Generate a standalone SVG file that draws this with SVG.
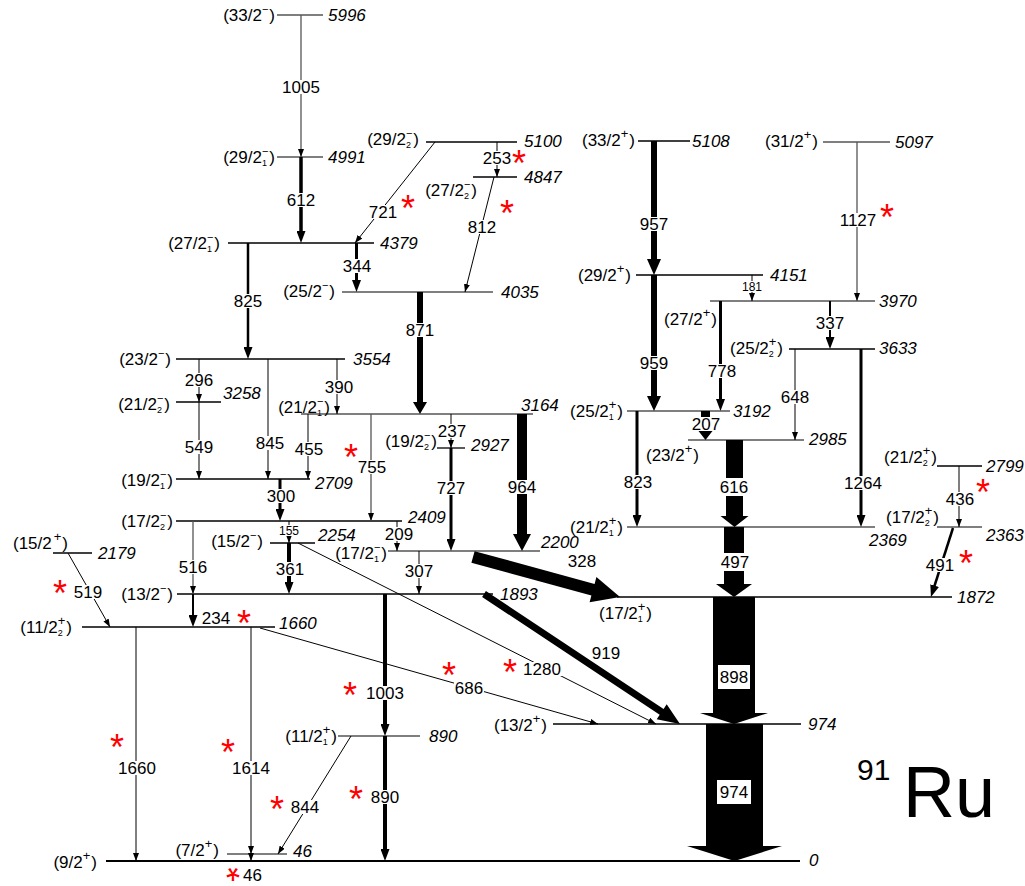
<svg xmlns="http://www.w3.org/2000/svg" width="1025" height="886" viewBox="0 0 1025 886">
<defs>
<marker id="ah" markerUnits="userSpaceOnUse" markerWidth="8" markerHeight="6" refX="8" refY="3" orient="auto"><path d="M0,0 L8,3 L0,6 z" fill="#000"/></marker>
<marker id="am" markerUnits="userSpaceOnUse" markerWidth="12" markerHeight="9" refX="1" refY="4.5" orient="auto"><path d="M0,0 L12,4.5 L0,9 z" fill="#000"/></marker>
</defs>
<style>
text{font-family:"Liberation Sans",Arial,sans-serif;font-size:17px;fill:#000}
.lv{stroke:#000;stroke-width:1.3}
.lg{stroke:#555;stroke-width:1.5}
.gs{stroke:#000;stroke-width:2.2}
.t1{stroke:#000;stroke-width:1;marker-end:url(#ah)}
.gy{stroke:#555;stroke-width:1.3}
.tm{stroke:#000;marker-end:url(#am)}
.th{fill:#000}
.sp{text-anchor:end}
.e{font-style:italic}
.l{text-anchor:middle}
.ls{text-anchor:middle;font-size:12px}
.m{font-size:11px}
.p{font-size:13px}
.b{font-size:9px}
.bg{fill:#fff}
.s{fill:#f00;font-size:36px;text-anchor:middle}
.z1{font-size:30px}
.z2{font-size:72px}
</style>
<rect width="1025" height="886" fill="#fff"/>
<g id="levels">
<g id="L5996"><line class="lg" x1="277" y1="15" x2="323" y2="15"/><text class="sp" x="275" y="21">(33/2<tspan class="m" dy="-8">−</tspan><tspan dx="1" dy="8">)</tspan></text><text class="e" x="328" y="21">5996</text></g>
<g id="L4991"><line class="lg" x1="277" y1="157" x2="323" y2="157"/><text class="sp" x="275" y="163">(29/2<tspan class="m" dy="-8">−</tspan><tspan class="b" dx="-6.4" dy="11">1</tspan><tspan dx="2.4" dy="-3">)</tspan></text><text class="e" x="328" y="163">4991</text></g>
<g id="L5100"><line class="lv" x1="426" y1="142" x2="517" y2="142"/><text class="sp" x="419" y="145">(29/2<tspan class="m" dy="-8">−</tspan><tspan class="b" dx="-6.4" dy="11">2</tspan><tspan dx="2.4" dy="-3">)</tspan></text><text class="e" x="524" y="147">5100</text></g>
<g id="L4847"><line class="lv" x1="473" y1="177" x2="517" y2="177"/><text class="sp" x="477" y="196">(27/2<tspan class="m" dy="-8">−</tspan><tspan class="b" dx="-6.4" dy="11">2</tspan><tspan dx="2.4" dy="-3">)</tspan></text><text class="e" x="524" y="183">4847</text></g>
<g id="L4379"><line class="lv" x1="228" y1="243" x2="374" y2="243"/><text class="sp" x="220" y="249">(27/2<tspan class="m" dy="-8">−</tspan><tspan class="b" dx="-6.4" dy="11">1</tspan><tspan dx="2.4" dy="-3">)</tspan></text><text class="e" x="380" y="249">4379</text></g>
<g id="L4035"><line class="lg" x1="342" y1="292" x2="493" y2="292"/><text class="sp" x="335" y="297">(25/2<tspan class="m" dy="-8">−</tspan><tspan dx="1" dy="8">)</tspan></text><text class="e" x="501" y="298">4035</text></g>
<g id="L3554"><line class="lv" x1="176" y1="359" x2="345" y2="359"/><text class="sp" x="171" y="365">(23/2<tspan class="m" dy="-8">−</tspan><tspan dx="1" dy="8">)</tspan></text><text class="e" x="353" y="365">3554</text></g>
<g id="L3258"><line class="lv" x1="176" y1="402" x2="221" y2="402"/><text class="sp" x="170" y="410">(21/2<tspan class="m" dy="-8">−</tspan><tspan class="b" dx="-6.4" dy="11">2</tspan><tspan dx="2.4" dy="-3">)</tspan></text><text class="e" x="223" y="399">3258</text></g>
<g id="L3164"><line class="lg" x1="301" y1="414" x2="533" y2="414"/><text class="sp" x="330" y="413">(21/2<tspan class="m" dy="-8">−</tspan><tspan class="b" dx="-6.4" dy="11">1</tspan><tspan dx="2.4" dy="-3">)</tspan></text><text class="e" x="521" y="411">3164</text></g>
<g id="L2927"><line class="lv" x1="437" y1="448" x2="465" y2="448"/><text class="sp" x="437" y="447">(19/2<tspan class="m" dy="-8">−</tspan><tspan class="b" dx="-6.4" dy="11">2</tspan><tspan dx="2.4" dy="-3">)</tspan></text><text class="e" x="471" y="451">2927</text></g>
<g id="L2709"><line class="lv" x1="176" y1="479" x2="310" y2="479"/><text class="sp" x="173" y="486">(19/2<tspan class="m" dy="-8">−</tspan><tspan class="b" dx="-6.4" dy="11">1</tspan><tspan dx="2.4" dy="-3">)</tspan></text><text class="e" x="315" y="489">2709</text></g>
<g id="L2409"><line class="lv" x1="176" y1="521" x2="402" y2="521"/><text class="sp" x="173" y="527">(17/2<tspan class="m" dy="-8">−</tspan><tspan class="b" dx="-6.4" dy="11">2</tspan><tspan dx="2.4" dy="-3">)</tspan></text><text class="e" x="408" y="523">2409</text></g>
<g id="L2254"><line class="lv" x1="270" y1="543" x2="315" y2="543"/><text class="sp" x="263" y="547">(15/2<tspan class="m" dy="-8">−</tspan><tspan dx="1" dy="8">)</tspan></text><text class="e" x="318" y="541">2254</text></g>
<g id="L2200"><line class="lg" x1="388" y1="551" x2="540" y2="551"/><text class="sp" x="387" y="559">(17/2<tspan class="m" dy="-8">−</tspan><tspan class="b" dx="-6.4" dy="11">1</tspan><tspan dx="2.4" dy="-3">)</tspan></text><text class="e" x="541" y="548">2200</text></g>
<g id="L2179"><line class="lv" x1="53" y1="553" x2="92" y2="553"/><text class="sp" x="68" y="549">(15/2<tspan class="p" dx="2" dy="-8">+</tspan><tspan dx="1" dy="8">)</tspan></text><text class="e" x="98" y="559">2179</text></g>
<g id="L1893"><line class="lv" x1="177" y1="594" x2="493" y2="594"/><text class="sp" x="173" y="600">(13/2<tspan class="m" dy="-8">−</tspan><tspan dx="1" dy="8">)</tspan></text><text class="e" x="500" y="600">1893</text></g>
<g id="L1660"><line class="lv" x1="82" y1="627" x2="275" y2="627"/><text class="sp" x="72" y="633">(11/2<tspan class="p" dy="-8">+</tspan><tspan class="b" dx="-7.6" dy="11">2</tspan><tspan dx="3.5" dy="-3">)</tspan></text><text class="e" x="279" y="629">1660</text></g>
<g id="L890"><line class="lg" x1="338" y1="736" x2="420" y2="736"/><text class="sp" x="337" y="742">(11/2<tspan class="p" dy="-8">+</tspan><tspan class="b" dx="-7.6" dy="11">1</tspan><tspan dx="3.5" dy="-3">)</tspan></text><text class="e" x="429" y="742">890</text></g>
<g id="L46"><line class="lg" x1="227" y1="854" x2="287" y2="854"/><text class="sp" x="219" y="856">(7/2<tspan class="p" dy="-8">+</tspan><tspan dx="1" dy="8">)</tspan></text><text class="e" x="293" y="857">46</text></g>
<g id="L0"><line class="gs" x1="106" y1="861" x2="800" y2="861"/><text class="sp" x="97" y="868">(9/2<tspan class="p" dy="-8">+</tspan><tspan dx="1" dy="8">)</tspan></text><text class="e" x="809" y="866">0</text></g>
<g id="L974"><line class="lv" x1="553" y1="724" x2="801" y2="724"/><text class="sp" x="547" y="731">(13/2<tspan class="p" dy="-8">+</tspan><tspan dx="1" dy="8">)</tspan></text><text class="e" x="808" y="730">974</text></g>
<g id="L1872"><line class="lv" x1="617" y1="597" x2="952" y2="597"/><text class="sp" x="652" y="619">(17/2<tspan class="p" dy="-8">+</tspan><tspan class="b" dx="-7.6" dy="11">1</tspan><tspan dx="3.5" dy="-3">)</tspan></text><text class="e" x="957" y="603">1872</text></g>
<g id="L5108"><line class="lv" x1="638" y1="141" x2="690" y2="141"/><text class="sp" x="635" y="146">(33/2<tspan class="p" dy="-8">+</tspan><tspan dx="1" dy="8">)</tspan></text><text class="e" x="692" y="147">5108</text></g>
<g id="L5097"><line class="lg" x1="823" y1="142" x2="890" y2="142"/><text class="sp" x="818" y="147">(31/2<tspan class="p" dy="-8">+</tspan><tspan dx="1" dy="8">)</tspan></text><text class="e" x="895" y="148">5097</text></g>
<g id="L4151"><line class="lv" x1="636" y1="275" x2="763" y2="275"/><text class="sp" x="631" y="281">(29/2<tspan class="p" dy="-8">+</tspan><tspan dx="1" dy="8">)</tspan></text><text class="e" x="770" y="281">4151</text></g>
<g id="L3970"><line class="lg" x1="710" y1="301" x2="875" y2="301"/><text class="sp" x="717" y="325">(27/2<tspan class="p" dy="-8">+</tspan><tspan dx="1" dy="8">)</tspan></text><text class="e" x="879" y="307">3970</text></g>
<g id="L3633"><line class="lv" x1="789" y1="349" x2="875" y2="349"/><text class="sp" x="783" y="354">(25/2<tspan class="p" dy="-8">+</tspan><tspan class="b" dx="-7.6" dy="11">2</tspan><tspan dx="3.5" dy="-3">)</tspan></text><text class="e" x="879" y="354">3633</text></g>
<g id="L3192"><line class="lg" x1="627" y1="411" x2="730" y2="411"/><text class="sp" x="623" y="417">(25/2<tspan class="p" dy="-8">+</tspan><tspan class="b" dx="-7.6" dy="11">1</tspan><tspan dx="3.5" dy="-3">)</tspan></text><text class="e" x="733" y="417">3192</text></g>
<g id="L2985"><line class="lg" x1="688" y1="440" x2="804" y2="440"/><text class="sp" x="699" y="461">(23/2<tspan class="p" dy="-8">+</tspan><tspan dx="1" dy="8">)</tspan></text><text class="e" x="809" y="445">2985</text></g>
<g id="L2369"><line class="lg" x1="627" y1="527" x2="875" y2="527"/><text class="sp" x="623" y="533">(21/2<tspan class="p" dy="-8">+</tspan><tspan class="b" dx="-7.6" dy="11">1</tspan><tspan dx="3.5" dy="-3">)</tspan></text><text class="e" x="869" y="546">2369</text></g>
<g id="L2799"><line class="lv" x1="937" y1="466" x2="982" y2="466"/><text class="sp" x="937" y="463">(21/2<tspan class="p" dy="-8">+</tspan><tspan class="b" dx="-7.6" dy="11">2</tspan><tspan dx="3.5" dy="-3">)</tspan></text><text class="e" x="986" y="472">2799</text></g>
<g id="L2363"><line class="lg" x1="937" y1="527" x2="982" y2="527"/><text class="sp" x="939" y="523">(17/2<tspan class="p" dy="-8">+</tspan><tspan class="b" dx="-7.6" dy="11">2</tspan><tspan dx="3.5" dy="-3">)</tspan></text><text class="e" x="986" y="541">2363</text></g>
</g>
<g id="connectors">
<line class="t1 gy" x1="301" y1="15" x2="301" y2="157"/>
<line class="t1" x1="435" y1="142" x2="355" y2="243"/>
<line class="t1" x1="497" y1="142" x2="497" y2="177"/>
<line class="t1" x1="494" y1="177" x2="465" y2="292"/>
<line class="t1" x1="199" y1="359" x2="199" y2="402"/>
<line class="t1" x1="199" y1="402" x2="199" y2="479"/>
<line class="t1" x1="268" y1="359" x2="268" y2="479"/>
<line class="t1" x1="337" y1="359" x2="337" y2="414"/>
<line class="t1" x1="308" y1="414" x2="308" y2="479"/>
<line class="t1 gy" x1="371" y1="414" x2="371" y2="521"/>
<line class="t1" x1="451" y1="414" x2="451" y2="448"/>
<line class="t1" x1="289" y1="521" x2="289" y2="543"/>
<line class="t1" x1="397" y1="521" x2="397" y2="551"/>
<line class="t1 gy" x1="193" y1="521" x2="193" y2="594"/>
<line class="t1" x1="419" y1="551" x2="419" y2="594"/>
<line class="t1" x1="298" y1="543" x2="656" y2="724"/>
<line class="t1" x1="260" y1="628" x2="598" y2="724"/>
<line class="t1" x1="351" y1="736" x2="278" y2="854"/>
<line class="t1" x1="136" y1="627" x2="136" y2="861"/>
<line class="t1" x1="251" y1="627" x2="251" y2="854"/>
<line class="t1" x1="251" y1="854" x2="251" y2="861"/>
<line class="t1" x1="68" y1="553" x2="110" y2="627"/>
<line class="t1" x1="752" y1="275" x2="752" y2="301"/>
<line class="t1 gy" x1="857" y1="142" x2="857" y2="301"/>
<line class="t1" x1="795" y1="349" x2="795" y2="440"/>
<line class="t1" x1="959" y1="466" x2="959" y2="527"/>
<line class="tm" stroke-width="3.5" x1="301" y1="157" x2="301" y2="232"/>
<line class="tm" stroke-width="3" x1="356.5" y1="243" x2="356.5" y2="281"/>
<line class="tm" stroke-width="2.5" x1="248" y1="243" x2="248" y2="348"/>
<line class="tm" stroke-width="3" x1="280" y1="479" x2="280" y2="510"/>
<line class="tm" stroke-width="4" x1="289" y1="543" x2="289" y2="583"/>
<line class="tm" stroke-width="2" x1="193" y1="594" x2="193" y2="616"/>
<line class="tm" stroke-width="3" x1="451" y1="448" x2="451" y2="540"/>
<line class="tm" stroke-width="4" x1="385" y1="594" x2="385" y2="725"/>
<line class="tm" stroke-width="4" x1="385" y1="736" x2="385" y2="850"/>
<line class="tm" stroke-width="3" x1="720.5" y1="301" x2="720.5" y2="400"/>
<line class="tm" stroke-width="2" x1="830" y1="301" x2="830" y2="338"/>
<line class="tm" stroke-width="3" x1="861" y1="349" x2="861" y2="516"/>
<line class="tm" stroke-width="3" x1="637" y1="411" x2="637" y2="516"/>
<line class="tm" stroke-width="2.5" x1="953" y1="528" x2="934.3" y2="586.5"/>
<polygon class="th" points="417,292 423,292 423,402 427,402 420,414 413,402 417,402"/>
<polygon class="th" points="651,141 657,141 657,259 661,259 654,275 647,259 651,259"/>
<polygon class="th" points="651,275 657,275 657,396 661,396 654,411 647,396 651,396"/>
<polygon class="th" points="517,414 527,414 527,534 531,534 522,551 513,534 517,534"/>
<polygon class="th" points="701,411 710,411 710,431 712.5,431 705.5,440 698.5,431 701,431"/>
<polygon class="th" points="726,440 743,440 743,516 748.5,516 734.5,527 720.5,516 726,516"/>
<polygon class="th" points="724,527 744,527 744,584 752,584 734,597 716,584 724,584"/>
<polygon class="th" points="713,597 755,597 755,713 768,713 734,724 700,713 713,713"/>
<polygon class="th" points="706,724 763,724 763,846 782,846 734.5,861 687,846 706,846"/>
<polygon class="th" points="474.6,551.2 594.6,583.9 596.4,577.1 620,597 589.6,602.2 591.4,595.4 471.4,562.8"/>
<polygon class="th" points="485.9,591.1 663.6,708.9 666.7,704.3 680,724 656.7,719.3 659.7,714.7 482.1,596.9"/>
</g>
<g id="transition-labels">
<rect class="bg" x="281" y="80" width="40" height="14"/><text class="l" x="301" y="93">1005</text>
<rect class="bg" x="286" y="193" width="30" height="14"/><text class="l" x="301" y="206">612</text>
<rect class="bg" x="368" y="205" width="30" height="14"/><text class="l" x="383" y="218">721</text>
<rect class="bg" x="482" y="151" width="30" height="14"/><text class="l" x="497" y="164">253</text>
<rect class="bg" x="467" y="220" width="30" height="14"/><text class="l" x="482" y="233">812</text>
<rect class="bg" x="342" y="259" width="30" height="14"/><text class="l" x="357" y="272">344</text>
<rect class="bg" x="233" y="294" width="30" height="14"/><text class="l" x="248" y="307">825</text>
<rect class="bg" x="405" y="323" width="30" height="14"/><text class="l" x="420" y="336">871</text>
<rect class="bg" x="184" y="373" width="30" height="14"/><text class="l" x="199" y="386">296</text>
<rect class="bg" x="184" y="440" width="30" height="14"/><text class="l" x="199" y="453">549</text>
<rect class="bg" x="255" y="436" width="30" height="14"/><text class="l" x="270" y="449">845</text>
<rect class="bg" x="324" y="380" width="30" height="14"/><text class="l" x="339" y="393">390</text>
<rect class="bg" x="294" y="442" width="30" height="14"/><text class="l" x="309" y="455">455</text>
<rect class="bg" x="357" y="460" width="30" height="14"/><text class="l" x="372" y="473">755</text>
<rect class="bg" x="437" y="424" width="30" height="14"/><text class="l" x="452" y="437">237</text>
<rect class="bg" x="436" y="481" width="30" height="14"/><text class="l" x="451" y="494">727</text>
<rect class="bg" x="507" y="480" width="30" height="14"/><text class="l" x="522" y="493">964</text>
<rect class="bg" x="266" y="489" width="30" height="14"/><text class="l" x="281" y="502">300</text>
<rect class="bg" x="279" y="525" width="20" height="11"/><text class="ls" x="289" y="535">155</text>
<rect class="bg" x="384" y="527" width="30" height="14"/><text class="l" x="399" y="540">209</text>
<rect class="bg" x="275" y="562" width="30" height="14"/><text class="l" x="290" y="575">361</text>
<rect class="bg" x="178" y="560" width="30" height="14"/><text class="l" x="193" y="573">516</text>
<rect class="bg" x="404" y="564" width="30" height="14"/><text class="l" x="419" y="577">307</text>
<text class="l" x="216" y="624">234</text>
<text class="l" x="582" y="567">328</text>
<text class="l" x="606" y="659">919</text>
<rect class="bg" x="522" y="662" width="40" height="14"/><text class="l" x="542" y="675">1280</text>
<rect class="bg" x="454" y="681" width="30" height="14"/><text class="l" x="469" y="694">686</text>
<rect class="bg" x="365" y="686" width="40" height="14"/><text class="l" x="385" y="699">1003</text>
<rect class="bg" x="370" y="790" width="30" height="14"/><text class="l" x="385" y="803">890</text>
<rect class="bg" x="290" y="800" width="30" height="14"/><text class="l" x="305" y="813">844</text>
<rect class="bg" x="117" y="761" width="40" height="14"/><text class="l" x="137" y="774">1660</text>
<rect class="bg" x="231" y="761" width="40" height="14"/><text class="l" x="251" y="774">1614</text>
<text x="243" y="881">46</text>
<rect class="bg" x="73" y="585" width="30" height="14"/><text class="l" x="88" y="598">519</text>
<rect class="bg" x="639" y="217" width="30" height="14"/><text class="l" x="654" y="230">957</text>
<rect class="bg" x="639" y="356" width="30" height="14"/><text class="l" x="654" y="369">959</text>
<rect class="bg" x="742" y="281" width="20" height="11"/><text class="ls" x="752" y="291">181</text>
<rect class="bg" x="838" y="213" width="40" height="14"/><text class="l" x="858" y="226">1127</text>
<rect class="bg" x="707" y="364" width="30" height="14"/><text class="l" x="722" y="377">778</text>
<rect class="bg" x="815" y="316" width="30" height="14"/><text class="l" x="830" y="329">337</text>
<rect class="bg" x="780" y="390" width="30" height="14"/><text class="l" x="795" y="403">648</text>
<rect class="bg" x="843" y="476" width="40" height="14"/><text class="l" x="863" y="489">1264</text>
<rect class="bg" x="691" y="417" width="30" height="14"/><text class="l" x="706" y="430">207</text>
<rect class="bg" x="623" y="475" width="30" height="14"/><text class="l" x="638" y="488">823</text>
<rect class="bg" x="719" y="478" width="30" height="18"/><text class="l" x="734" y="493">616</text>
<rect class="bg" x="720" y="553" width="30" height="18"/><text class="l" x="735" y="568">497</text>
<rect class="bg" x="945" y="492" width="30" height="14"/><text class="l" x="960" y="505">436</text>
<rect class="bg" x="925" y="558" width="30" height="14"/><text class="l" x="940" y="571">491</text>
<rect class="bg" x="718" y="665" width="32" height="24"/><text class="l" x="734" y="683">898</text>
<rect class="bg" x="717" y="780" width="34" height="24"/><text class="l" x="734" y="798">974</text>
</g>
<g id="stars">
<text class="s" x="408" y="221">*</text>
<text class="s" x="519" y="176">*</text>
<text class="s" x="507" y="226">*</text>
<text class="s" x="887" y="230">*</text>
<text class="s" x="351" y="470">*</text>
<text class="s" x="983" y="505">*</text>
<text class="s" x="966" y="576">*</text>
<text class="s" x="60" y="606">*</text>
<text class="s" x="244" y="636">*</text>
<text class="s" x="449" y="688">*</text>
<text class="s" x="510" y="685">*</text>
<text class="s" x="350" y="708">*</text>
<text class="s" x="117" y="760">*</text>
<text class="s" x="228" y="765">*</text>
<text class="s" x="277" y="822">*</text>
<text class="s" x="356" y="812">*</text>
<text class="s" x="233" y="889" transform="rotate(180 233 872)">*</text>
</g>
<g id="nucleus">
<text class="z1" x="857" y="780">91</text>
<text class="z2" x="903" y="817">Ru</text>
</g>
</svg>
